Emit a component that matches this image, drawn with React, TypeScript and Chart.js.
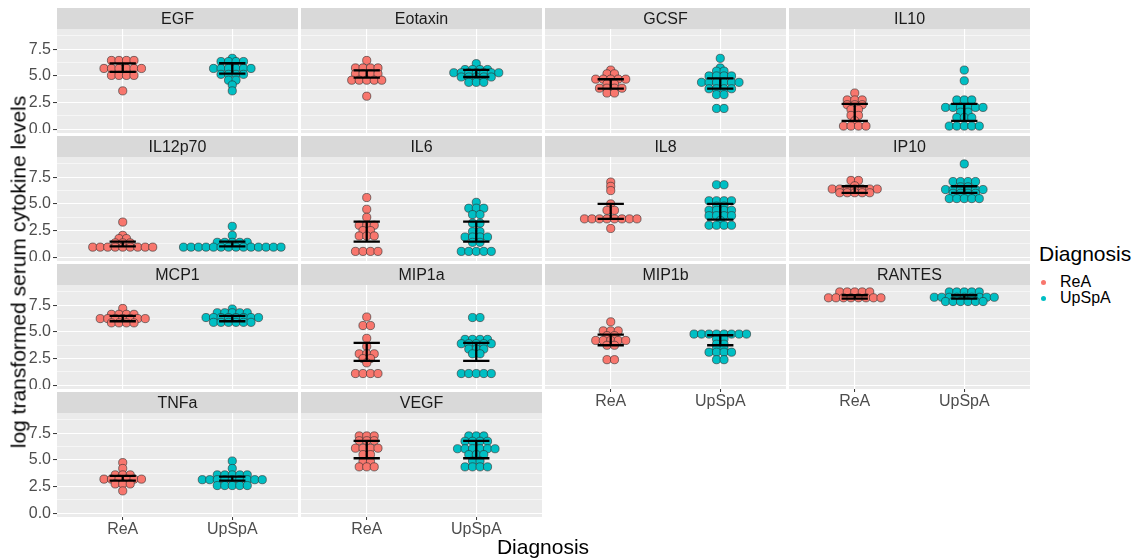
import React, { useEffect, useRef } from 'react';
import { Chart, registerables } from 'chart.js';

Chart.register(...registerables);

const FONT = '"Liberation Sans", Arial, Helvetica, sans-serif';

// ---------- data ----------
const groups = ['ReA', 'UpSpA'];
const groupColors = ['#F8766D', '#00BFC4'];
const yTickValues = [0, 1.25, 2.5, 3.75, 5, 6.25, 7.5, 8.75];
const yMajorTicks = [0, 2.5, 5, 7.5];

const egfReA = [6.45, 6.45, 6.45, 6.45, 5.7, 5.7, 5.7, 5.7, 5.7, 5.7, 5.05, 5.05, 5.05, 5.05, 3.6];
const egfUpSpA = [6.65, 6.35, 6.35, 6.35, 6.35, 5.7, 5.7, 5.7, 5.7, 5.7, 5.7, 5.15, 5.15, 5.15, 5.15, 4.6, 4.6, 4.15, 3.6];
const egfBars = [[5.38, 6.17], [5.22, 6.19]];

const eotaxinReA = [6.45, 5.75, 5.75, 5.75, 5.75, 5.2, 5.2, 5.2, 5.2, 4.6, 4.6, 4.6, 4.6, 4.6, 3.1];
const eotaxinUpSpA = [6.15, 5.6, 5.6, 5.6, 5.6, 5.3, 5.3, 5.3, 5.3, 5.3, 5.3, 5.3, 4.9, 4.9, 4.9, 4.9, 4.9, 4.4, 4.4, 4.4];
const eotaxinBars = [[4.84, 5.53], [4.9, 5.56]];

const gcsfReA = [5.55, 5.2, 5.2, 4.7, 4.7, 4.7, 4.7, 4.7, 4.25, 4.25, 3.85, 3.85, 3.85, 3.85, 3.4, 3.4];
const gcsfUpSpA = [6.65, 5.75, 5.45, 5.45, 5.0, 5.0, 5.0, 5.0, 4.4, 4.4, 4.4, 4.4, 4.4, 4.4, 3.8, 3.8, 3.8, 3.8, 3.25, 3.25, 1.95, 1.95];
const gcsfBars = [[3.81, 4.69], [3.81, 4.78]];

const il10ReA = [3.4, 2.75, 2.75, 2.75, 2.3, 2.3, 2.3, 1.85, 1.85, 1.3, 1.3, 0.8, 0.3, 0.3, 0.3, 0.3];
const il10UpSpA = [5.55, 4.55, 2.75, 2.75, 2.75, 2.05, 2.05, 2.05, 2.05, 2.05, 2.05, 1.6, 1.6, 1.1, 1.1, 1.1, 0.3, 0.3, 0.3, 0.3, 0.3];
const il10Bars = [[0.79, 2.38], [0.79, 2.38]];

const il12p70ReA = [3.3, 2.05, 1.75, 1.75, 1.35, 1.35, 1.35, 0.95, 0.95, 0.95, 0.95, 0.95, 0.95, 0.95, 0.95, 0.95];
const il12p70UpSpA = [2.9, 2.05, 1.4, 1.4, 1.4, 1.4, 1.4, 0.95, 0.95, 0.95, 0.95, 0.95, 0.95, 0.95, 0.95, 0.95, 0.95, 0.95, 0.95, 0.95, 0.95];
const il12p70Bars = [[1.03, 1.47], [1.03, 1.47]];

const il6ReA = [5.6, 4.5, 3.75, 3.0, 3.0, 3.0, 2.5, 2.5, 2.0, 2.0, 2.0, 0.55, 0.55, 0.55, 0.55];
const il6UpSpA = [5.15, 4.6, 4.6, 4.6, 4.0, 4.0, 3.2, 3.2, 2.4, 2.4, 1.9, 1.9, 1.9, 1.9, 1.4, 1.4, 0.55, 0.55, 0.55, 0.55, 0.55];
const il6Bars = [[1.47, 3.34], [1.47, 3.34]];

const il8ReA = [7.05, 6.65, 6.25, 5.0, 4.4, 4.4, 3.6, 3.6, 3.6, 3.6, 3.6, 3.6, 3.6, 3.6, 2.7];
const il8UpSpA = [6.8, 6.8, 5.3, 5.3, 5.3, 5.3, 4.8, 4.8, 4.4, 4.4, 4.4, 4.4, 3.9, 3.9, 3.9, 3.9, 3.45, 3.0, 3.0, 3.0, 3.0];
const il8Bars = [[3.59, 5.0], [3.53, 5.0]];

const ip10ReA = [7.2, 7.2, 6.7, 6.4, 6.4, 6.4, 6.4, 6.4, 6.4, 6.4, 6.05, 6.05, 6.05, 6.05, 6.05];
const ip10UpSpA = [8.75, 7.1, 7.1, 7.1, 7.1, 6.6, 6.6, 6.35, 6.35, 6.35, 6.35, 6.35, 6.35, 6.0, 6.0, 6.0, 6.0, 5.5, 5.5, 5.5, 5.5, 5.5];
const ip10Bars = [[6.03, 6.66], [6.03, 6.66]];

const mcp1ReA = [7.2, 6.65, 6.65, 6.65, 6.65, 6.25, 6.25, 6.25, 6.25, 6.25, 6.25, 6.25, 5.85, 5.85, 5.85, 5.85];
const mcp1UpSpA = [7.15, 6.8, 6.8, 6.8, 6.8, 6.8, 6.35, 6.35, 6.35, 6.35, 6.35, 6.35, 6.35, 6.35, 5.9, 5.9, 5.9, 5.9, 5.9, 5.9];
const mcp1Bars = [[6.0, 6.5], [6.0, 6.5]];

const mip1aReA = [6.4, 5.6, 5.6, 4.4, 3.65, 2.95, 2.95, 2.95, 2.5, 2.5, 2.1, 1.1, 1.1, 1.1, 1.1];
const mip1aUpSpA = [6.35, 6.35, 4.3, 4.3, 4.3, 4.3, 3.9, 3.9, 3.9, 3.9, 3.9, 3.4, 3.4, 3.4, 2.95, 2.95, 1.1, 1.1, 1.1, 1.1, 1.1];
const mip1aBars = [[2.28, 3.97], [2.28, 3.97]];

const mip1bReA = [5.95, 5.1, 5.1, 5.1, 4.65, 4.65, 4.2, 4.2, 4.2, 4.2, 4.2, 3.75, 3.75, 2.4, 2.4];
const mip1bUpSpA = [4.8, 4.8, 4.8, 4.8, 4.8, 4.8, 4.8, 4.8, 4.35, 4.35, 3.85, 3.85, 3.45, 3.45, 3.1, 3.1, 3.1, 3.1, 2.4, 2.4];
const mip1bBars = [[3.75, 4.75], [3.75, 4.69]];

const rantesReA = [8.75, 8.75, 8.75, 8.75, 8.75, 8.2, 8.2, 8.2, 8.2, 8.2, 8.2, 8.2, 8.2];
const rantesUpSpA = [8.75, 8.75, 8.75, 8.75, 8.75, 8.25, 8.25, 8.25, 8.25, 8.25, 8.25, 8.25, 8.25, 8.25, 7.85, 7.85, 7.85, 7.85, 7.85, 7.85];
const rantesBars = [[8.12, 8.44], [8.12, 8.44]];

const tnfaReA = [4.75, 4.2, 3.6, 3.6, 3.6, 3.2, 3.2, 3.2, 3.2, 3.2, 3.2, 2.75, 2.75, 2.75, 2.1];
const tnfaUpSpA = [4.9, 4.2, 3.6, 3.6, 3.6, 3.6, 3.6, 3.15, 3.15, 3.15, 3.15, 3.15, 3.15, 3.15, 3.15, 3.15, 2.6, 2.6, 2.6, 2.6, 2.6];
const tnfaBars = [[3.06, 3.5], [3.06, 3.44]];

const vegfReA = [7.25, 7.25, 7.25, 6.8, 6.8, 6.8, 6.1, 6.1, 6.1, 6.1, 5.5, 5.5, 4.85, 4.85, 4.35, 4.35, 4.35];
const vegfUpSpA = [7.25, 7.25, 7.25, 6.75, 6.75, 6.75, 6.75, 6.05, 6.05, 6.05, 6.05, 6.05, 6.05, 5.5, 5.5, 5.5, 4.9, 4.9, 4.35, 4.35, 4.35, 4.35];
const vegfBars = [[5.16, 6.78], [5.16, 6.78]];

const panels = [
  { name: 'EGF', rea: egfReA, upspa: egfUpSpA, bars: egfBars },
  { name: 'Eotaxin', rea: eotaxinReA, upspa: eotaxinUpSpA, bars: eotaxinBars },
  { name: 'GCSF', rea: gcsfReA, upspa: gcsfUpSpA, bars: gcsfBars },
  { name: 'IL10', rea: il10ReA, upspa: il10UpSpA, bars: il10Bars },
  { name: 'IL12p70', rea: il12p70ReA, upspa: il12p70UpSpA, bars: il12p70Bars },
  { name: 'IL6', rea: il6ReA, upspa: il6UpSpA, bars: il6Bars },
  { name: 'IL8', rea: il8ReA, upspa: il8UpSpA, bars: il8Bars },
  { name: 'IP10', rea: ip10ReA, upspa: ip10UpSpA, bars: ip10Bars },
  { name: 'MCP1', rea: mcp1ReA, upspa: mcp1UpSpA, bars: mcp1Bars },
  { name: 'MIP1a', rea: mip1aReA, upspa: mip1aUpSpA, bars: mip1aBars },
  { name: 'MIP1b', rea: mip1bReA, upspa: mip1bUpSpA, bars: mip1bBars },
  { name: 'RANTES', rea: rantesReA, upspa: rantesUpSpA, bars: rantesBars },
  { name: 'TNFa', rea: tnfaReA, upspa: tnfaUpSpA, bars: tnfaBars },
  { name: 'VEGF', rea: vegfReA, upspa: vegfUpSpA, bars: vegfBars },
];

// ---------- layout ----------
const COL_LEFT = [57, 301, 545, 789];
const ROW_TOP = [8, 136, 264, 392];
const PANEL_W = 241;
const PANEL_H = 104;
const STRIP_H = 21;
const Y_AXIS_W = 50;
const X_AXIS_H = 26;
const X_MIN = 0.4;
const X_MAX = 2.6;
const Y_MIN = -0.35;
const Y_MAX = 9.4;
const DOT_PX = 7.5;
const BAR_HALF = 0.12;

function panelGeom(i: number) {
  const col = i % 4;
  const row = Math.floor(i / 4);
  const bottom = row === 3 || (row === 2 && col >= 2);
  const left = COL_LEFT[col] - (col === 0 ? Y_AXIS_W : 0);
  const top = ROW_TOP[row];
  const width = PANEL_W + (col === 0 ? Y_AXIS_W : 0);
  const height = STRIP_H + PANEL_H + (bottom ? X_AXIS_H : 0);
  return { col, row, bottom, left, top, width, height };
}

// dot-plot style stacking: identical values share a row, centred on the group
function stackDots(values: number[], center: number) {
  const step = (DOT_PX * (X_MAX - X_MIN)) / PANEL_W;
  const counts = new Map<number, number>();
  values.forEach((v) => counts.set(v, (counts.get(v) || 0) + 1));
  const seen = new Map<number, number>();
  return values.map((v) => {
    const n = counts.get(v) || 1;
    const k = seen.get(v) || 0;
    seen.set(v, k + 1);
    return { x: center + (k - (n - 1) / 2) * step, y: v };
  });
}

function errorBar(center: number, lo: number, hi: number) {
  return [
    { x: center - BAR_HALF, y: hi },
    { x: center + BAR_HALF, y: hi },
    { x: center, y: null },
    { x: center, y: hi },
    { x: center, y: lo },
    { x: center, y: null },
    { x: center - BAR_HALF, y: lo },
    { x: center + BAR_HALF, y: lo },
  ];
}

const stripPlugin = {
  id: 'stripPanel',
  beforeDraw(chart: any, _args: any, opts: any) {
    const { ctx, chartArea } = chart;
    ctx.save();
    ctx.fillStyle = '#EBEBEB';
    ctx.fillRect(chartArea.left, chartArea.top, chartArea.right - chartArea.left, chartArea.bottom - chartArea.top);
    ctx.fillStyle = '#D9D9D9';
    ctx.fillRect(chartArea.left, chartArea.top - STRIP_H, chartArea.right - chartArea.left, STRIP_H);
    ctx.fillStyle = '#1A1A1A';
    ctx.font = `16px ${FONT}`;
    ctx.textAlign = 'center';
    ctx.textBaseline = 'middle';
    ctx.fillText(opts.title || '', (chartArea.left + chartArea.right) / 2, chartArea.top - STRIP_H / 2 + 1);
    ctx.restore();
  },
};

const isMajor = (v: number) => yMajorTicks.some((m) => Math.abs(m - v) < 1e-6);

export default function App() {
  const refs = useRef<(HTMLCanvasElement | null)[]>([]);

  useEffect(() => {
    const charts: Chart[] = [];
    panels.forEach((p, i) => {
      const canvas = refs.current[i];
      if (!canvas) return;
      const g = panelGeom(i);
      const showY = g.col === 0;
      const showX = g.bottom;
      const datasets: any[] = [];
      [p.rea, p.upspa].forEach((vals, gi) => {
        datasets.push({
          label: groups[gi] + ' bars',
          data: errorBar(gi + 1, p.bars[gi][0], p.bars[gi][1]),
          showLine: true,
          spanGaps: false,
          borderColor: '#000000',
          borderWidth: 2.3,
          pointRadius: 0,
          order: 0,
        });
        datasets.push({
          label: groups[gi],
          data: stackDots(vals, gi + 1),
          showLine: false,
          pointRadius: 4.1,
          pointBackgroundColor: groupColors[gi],
          pointBorderColor: 'rgba(45,45,45,0.85)',
          pointBorderWidth: 0.7,
          order: 1,
        });
      });
      const chart = new Chart(canvas, {
        type: 'scatter',
        data: { datasets },
        options: {
          animation: false,
          responsive: false,
          devicePixelRatio: 1,
          events: [],
          clip: false,
          layout: { autoPadding: false, padding: { top: STRIP_H, left: 0, right: 0, bottom: 0 } },
          plugins: {
            legend: { display: false },
            tooltip: { enabled: false },
            stripPanel: { title: p.name },
          } as any,
          scales: {
            x: {
              type: 'linear',
              min: X_MIN,
              max: X_MAX,
              afterBuildTicks: (s: any) => {
                s.ticks = [{ value: 1 }, { value: 2 }];
              },
              afterFit: (s: any) => {
                s.height = showX ? X_AXIS_H : 0;
                s.paddingLeft = 0;
                s.paddingRight = 0;
              },
              border: { display: false },
              grid: {
                color: '#FFFFFF',
                lineWidth: 1.1,
                drawTicks: showX,
                tickLength: 3,
                tickColor: '#333333',
                tickWidth: 1,
              },
              ticks: {
                display: showX,
                autoSkip: false,
                maxRotation: 0,
                padding: 0,
                color: '#4D4D4D',
                font: { family: FONT, size: 16 },
                callback: (v: any) => groups[Math.round(Number(v)) - 1] || '',
              },
            },
            y: {
              type: 'linear',
              min: Y_MIN,
              max: Y_MAX,
              afterBuildTicks: (s: any) => {
                s.ticks = yTickValues.map((v) => ({ value: v }));
              },
              afterFit: (s: any) => {
                s.width = showY ? Y_AXIS_W : 0;
                s.paddingTop = 0;
                s.paddingBottom = 0;
              },
              border: { display: false },
              grid: {
                color: '#FFFFFF',
                lineWidth: (c: any) => (c.tick && isMajor(c.tick.value) ? 1.1 : 0.55),
                drawTicks: showY,
                tickLength: 4,
                tickColor: (c: any) => (c.tick && isMajor(c.tick.value) ? '#333333' : 'rgba(0,0,0,0)'),
                tickWidth: 1,
              },
              ticks: {
                display: showY,
                autoSkip: false,
                padding: 2,
                color: '#4D4D4D',
                font: { family: FONT, size: 16 },
                callback: (v: any) => (isMajor(Number(v)) ? Number(v).toFixed(1) : ''),
              },
            },
          },
        },
        plugins: [stripPlugin],
      } as any);
      charts.push(chart);
    });
    return () => charts.forEach((c) => c.destroy());
  }, []);

  const text = (extra: React.CSSProperties): React.CSSProperties => ({
    position: 'absolute',
    fontFamily: FONT,
    whiteSpace: 'nowrap',
    lineHeight: 1,
    ...extra,
  });

  return (
    <div style={{ position: 'absolute', left: 0, top: 0, width: 1134, height: 559, background: '#FFFFFF', overflow: 'hidden' }}>
      {panels.map((p, i) => {
        const g = panelGeom(i);
        return (
          <canvas
            key={p.name}
            ref={(el) => {
              refs.current[i] = el;
            }}
            width={g.width}
            height={g.height}
            style={{ position: 'absolute', left: g.left, top: g.top, width: g.width, height: g.height }}
          />
        );
      })}
      <div
        style={text({
          left: 18,
          top: 272,
          fontSize: 21,
          color: '#000',
          transform: 'translate(-50%, -50%) rotate(-90deg)',
        })}
      >
        log transformed serum cytokine levels
      </div>
      <div style={text({ left: 543, top: 546, fontSize: 21, color: '#000', transform: 'translate(-50%, -50%)' })}>
        Diagnosis
      </div>
      <div style={text({ left: 1039, top: 253, fontSize: 21, color: '#000', transform: 'translateY(-50%)' })}>
        Diagnosis
      </div>
      {groups.map((gname, gi) => (
        <React.Fragment key={gname}>
          <div
            style={{
              position: 'absolute',
              left: 1043 - 2.5,
              top: 282 + gi * 16 - 2.5,
              width: 5,
              height: 5,
              borderRadius: '50%',
              background: groupColors[gi],
            }}
          />
          <div style={text({ left: 1060, top: 282 + gi * 16, fontSize: 16, color: '#000', transform: 'translateY(-50%)' })}>
            {gname}
          </div>
        </React.Fragment>
      ))}
    </div>
  );
}
